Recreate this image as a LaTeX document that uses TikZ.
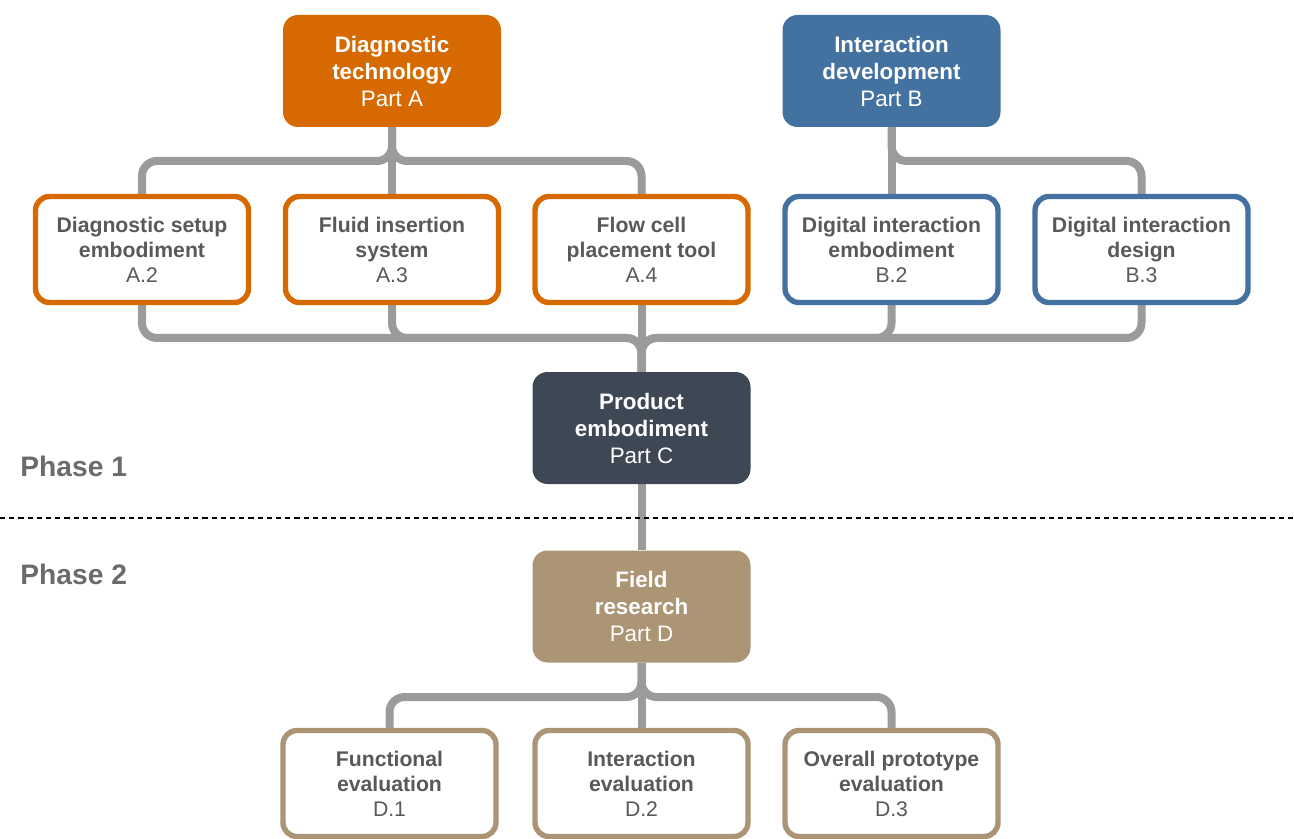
\documentclass[tikz,border=0pt]{standalone}
\usepackage{fontspec}
\setmainfont{Liberation Sans}
\usetikzlibrary{backgrounds}
\definecolor{partA}{HTML}{D66A00}
\definecolor{partB}{HTML}{4472A0}
\definecolor{partC}{HTML}{3E4754}
\definecolor{partD}{HTML}{AC9574}
\definecolor{linkgray}{HTML}{9B9B9B}
\definecolor{labelgray}{HTML}{595959}
\definecolor{phasegray}{HTML}{6B6B6B}
\tikzset{
  partbox/.style={rounded corners=7.5pt, minimum width=109pt, minimum height=56pt,
    inner sep=0pt, align=center, text=white,
    font=\fontsize{11.2pt}{13.5pt}\selectfont},
  taskbox/.style={draw=#1, line width=2.7pt, fill=white, rounded corners=7pt,
    minimum width=106.5pt, minimum height=53pt, inner sep=0pt, align=center,
    text=labelgray, font=\fontsize{10.6pt}{12.5pt}\selectfont},
  conn/.style={draw=linkgray, line width=4pt, rounded corners=7.5pt},
  phaselabel/.style={anchor=west, text=phasegray, inner sep=0pt,
    font=\fontsize{14.1pt}{16pt}\selectfont\bfseries}
}
\begin{document}
\begin{tikzpicture}[x=0.5pt,y=-0.5pt]
\useasboundingbox (0,0) rectangle (1294,839);

% bus levels of the connector tree
\coordinate (busA) at (0,161);
\coordinate (busC) at (0,338);
\coordinate (busD) at (0,697);

% parts
\node[partbox, fill=partA] (A) at (392,71) {\textbf{Diagnostic}\\\textbf{technology}\\Part A};
\node[partbox, fill=partB] (B) at (891.5,71) {\textbf{Interaction}\\\textbf{development}\\Part B};
\node[partbox, fill=partC] (C) at (641.5,428) {\textbf{Product}\\\textbf{embodiment}\\Part C};
\node[partbox, fill=partD] (D) at (641.5,606.5) {\textbf{Field}\\\textbf{research}\\Part D};

% tasks of part A and B
\node[taskbox=partA] (A2) at (142,249.5) {\textbf{Diagnostic setup}\\\textbf{embodiment}\\A.2};
\node[taskbox=partA] (A3) at (392,249.5) {\textbf{Fluid insertion}\\\textbf{system}\\A.3};
\node[taskbox=partA] (A4) at (641.5,249.5) {\textbf{Flow cell}\\\textbf{placement tool}\\A.4};
\node[taskbox=partB] (B2) at (891.5,249.5) {\textbf{Digital interaction}\\\textbf{embodiment}\\B.2};
\node[taskbox=partB] (B3) at (1141.5,249.5) {\textbf{Digital interaction}\\\textbf{design}\\B.3};

% tasks of part D
\node[taskbox=partD] (D1) at (389.5,783.5) {\textbf{Functional}\\\textbf{evaluation}\\D.1};
\node[taskbox=partD] (D2) at (641.5,783.5) {\textbf{Interaction}\\\textbf{evaluation}\\D.2};
\node[taskbox=partD] (D3) at (891.5,783.5) {\textbf{Overall prototype}\\\textbf{evaluation}\\D.3};

% phases
\node[phaselabel] (P1) at (20,466) {Phase 1};
\node[phaselabel] (P2) at (20,574) {Phase 2};
\coordinate (sepL) at (0,518);
\coordinate (sepR) at (1294,518);
\draw[black, line width=0.7pt, dash pattern=on 2.6pt off 2pt] (sepL) -- (sepR);

\begin{scope}[on background layer]
  % part A to its tasks
  \draw[conn] (A.south) -- (A.south |- busA) -| (A2.north);
  \draw[conn] (A.south) -- (A3.north);
  \draw[conn] (A.south) -- (A.south |- busA) -| (A4.north);
  % part B to its tasks
  \draw[conn] (B.south) -- (B2.north);
  \draw[conn] (B.south) -- (B.south |- busA) -| (B3.north);
  % tasks into product embodiment
  \draw[conn] (A2.south) |- (C.north |- busC) -- (C.north);
  \draw[conn] (A3.south) |- (C.north |- busC) -- (C.north);
  \draw[conn] (A4.south) -- (C.north);
  \draw[conn] (B2.south) |- (C.north |- busC) -- (C.north);
  \draw[conn] (B3.south) |- (C.north |- busC) -- (C.north);
  % product embodiment to field research
  \draw[conn] (C.south) -- (D.north);
  % field research to its tasks
  \draw[conn] (D.south) -- (D.south |- busD) -| (D1.north);
  \draw[conn] (D.south) -- (D2.north);
  \draw[conn] (D.south) -- (D.south |- busD) -| (D3.north);
\end{scope}
\end{tikzpicture}
\end{document}
